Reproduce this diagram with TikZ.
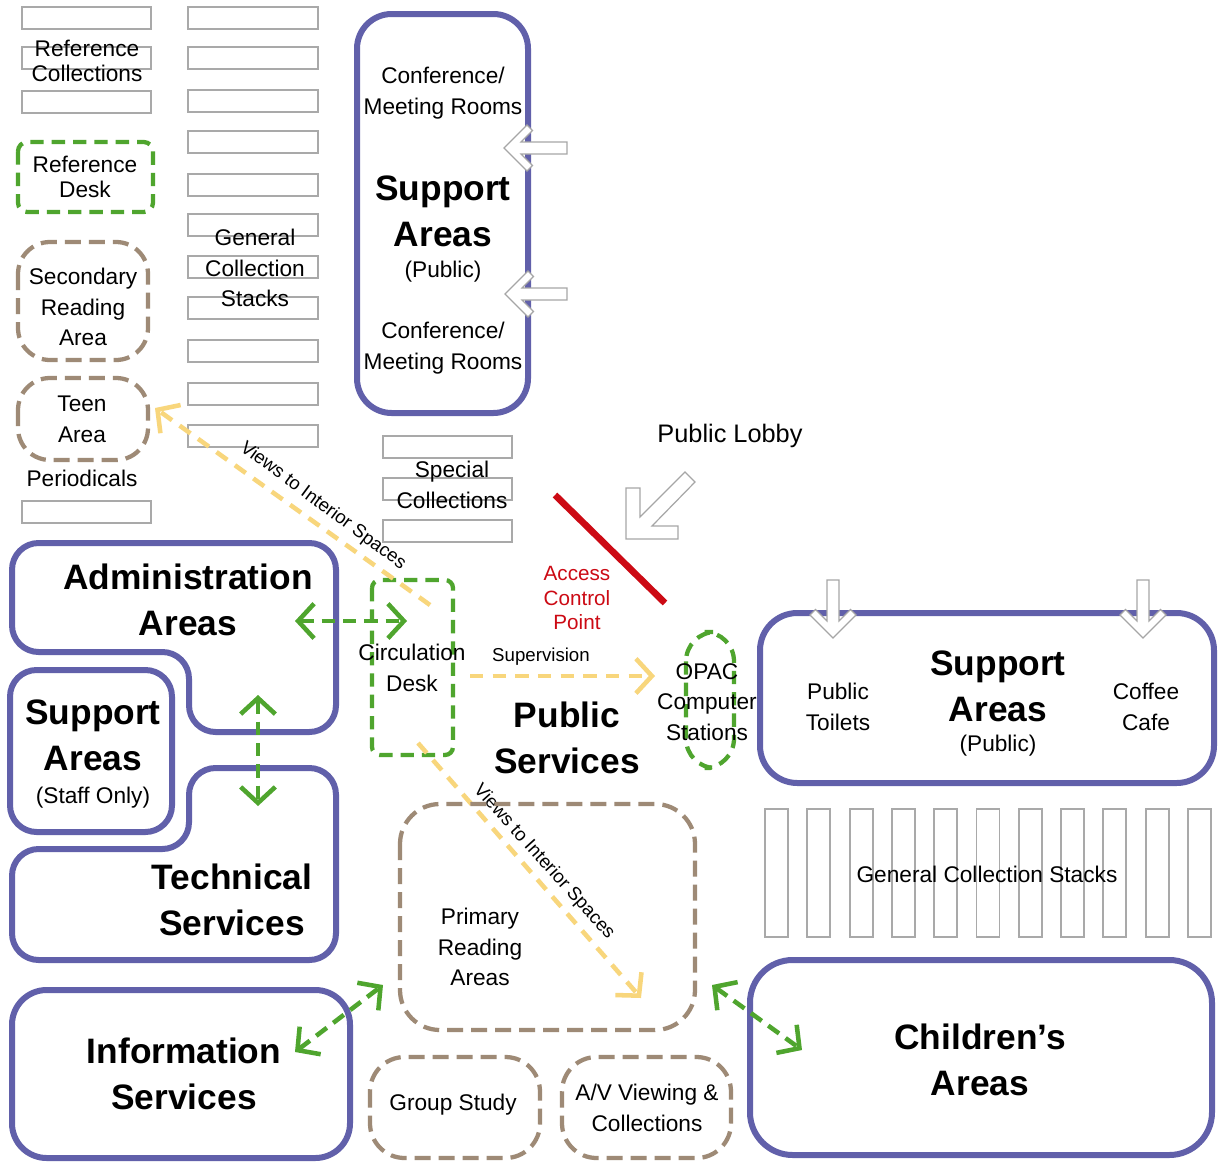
\documentclass[tikz,border=0pt]{standalone}
\usepackage{fontspec}
\setmainfont{Liberation Sans}
\usetikzlibrary{arrows.meta}
\definecolor{bord}{HTML}{6160AA}
\definecolor{grn}{HTML}{4FA52E}
\definecolor{brn}{HTML}{9E8A76}
\definecolor{ylw}{HTML}{F8D67C}
\definecolor{shelf}{HTML}{A9A9A9}
\definecolor{acred}{HTML}{CC0A14}
\tikzset{
 area/.style={draw=bord, line width=4.5pt, rounded corners=20pt},
 shelfbox/.style={draw=shelf, line width=1.4pt},
 greendash/.style={draw=grn, line width=3.2pt, dash pattern=on 10pt off 6pt},
 browndash/.style={draw=brn, line width=3.2pt, dash pattern=on 12pt off 6pt},
 garrow/.style={draw=grn, line width=3.4pt, dash pattern=on 10pt off 6pt, {Straight Barb[length=12pt,width=26pt]}-{Straight Barb[length=12pt,width=26pt]}},
 yarrow/.style={draw=ylw, line width=3.4pt, dash pattern=on 10pt off 7pt, -{Straight Barb[length=12pt,width=26pt]}},
 txt/.style={font=\fontsize{17}{23}\selectfont, align=center, inner sep=0pt},
 tighttxt/.style={font=\fontsize{17}{19}\selectfont, align=center, inner sep=0pt},
 big/.style={font=\fontsize{26.5}{34.5}\selectfont\bfseries, align=center, inner sep=0pt},
 small/.style={font=\fontsize{14}{17}\selectfont, inner sep=0pt},
 hollow/.style={draw=gray!70, fill=white, line width=0.9pt},
 pics/hollowarrow/.style={code={
   \draw[hollow] (0,0) -- (-23,-23) -- (-28.5,-17.5) -- (-17,-6) -- (-#1,-6) -- (-#1,6) -- (-17,6) -- (-28.5,17.5) -- (-23,23) -- cycle;}},
}
\begin{document}
\begin{tikzpicture}[x=0.75pt,y=-0.75pt]
\useasboundingbox (0,0) rectangle (1218,1161);
\fill[white] (0,0) rectangle (1218,1161);

% left shelves: reference collections
\foreach \y in {7,47,91} \draw[shelfbox] (22,\y) rectangle (151,\y+22);
\node[tighttxt] (refcol) at (87,61) {Reference\\Collections};
\draw[greendash, rounded corners=7pt] (18,142) rectangle (153,212);
\node[tighttxt] (refdesk) at (85,177) {Reference\\Desk};
\draw[browndash, rounded corners=24pt] (18,242) rectangle (148,360);
\node[txt] (secread) at (83,307) {Secondary\\Reading\\Area};
\draw[browndash, rounded corners=24pt] (18,378) rectangle (148,460);
\node[txt] (teen) at (82,419) {Teen\\Area};
\node[txt] (period) at (82,478) {Periodicals};
\draw[shelfbox] (22,501) rectangle (151,523);

% general collection stacks (left column)
\foreach \y in {7,47,90,131,174,214,256,297,340,383,425} \draw[shelfbox] (188,\y) rectangle (318,\y+22);
\node[txt] (genstack) at (255,268) {General\\Collection\\Stacks};

% support areas (public) top
\draw[area, rounded corners=26pt] (357,14) rectangle (528,413);
\node[txt] (conf1) at (443,93) {Conference/\\Meeting Rooms};
\node[big] (supp1) at (443,211) {Support\\Areas};
\node[txt] (pub1) at (443,272) {(Public)};
\node[txt] (conf2) at (443,348) {Conference/\\Meeting Rooms};
\pic[rotate=180] at (504,148) {hollowarrow=63};
\pic[rotate=180] at (505,294) {hollowarrow=62};

% special collections
\foreach \y in {436,478,520} \draw[shelfbox] (383,\y) rectangle (512,\y+22);
\node[txt] (special) at (452,485) {Special\\Collections};

% public lobby
\node[font=\fontsize{19}{23}\selectfont, inner sep=0pt] (lobby) at (730,436) {Public Lobby};
\draw[hollow] (626,488) -- (626,539) -- (678,539) -- (678,526) -- (652,526) -- (695,482) -- (685,472) -- (640,517) -- (640,488) -- cycle;
\coordinate (redA) at (555,495);
\coordinate (redB) at (665,603);
\draw[acred, line width=5pt] (redA) -- (redB);
\node[txt, text=acred, font=\fontsize{15.5}{18.5}\selectfont] (access) at (577,598) {Access\\Control\\Point};

% administration / staff support / technical
\draw[area] (12,543) -- (336,543) -- (336,732) -- (189,732) -- (189,652) -- (12,652) -- cycle;
\node[big] (admin) at (188,600) {Administration\\Areas};
\draw[area] (10,670) rectangle (172,832);
\node[big] (supp2) at (93,735) {Support\\Areas};
\node[txt] (staff) at (93,798) {(Staff Only)};
\draw[area] (189,768) -- (336,768) -- (336,960) -- (12,960) -- (12,849) -- (189,849) -- cycle;
\node[big] (tech) at (232,900) {Technical\\Services};

\coordinate (ac1) at (295,621);
\coordinate (ac2) at (407,621);
\draw[garrow] (ac1) -- (ac2);
\coordinate (at1) at (258,695);
\coordinate (at2) at (258,806);
\draw[garrow] (at1) -- (at2);

% circulation desk
\draw[greendash, rounded corners=6pt] (372,580) rectangle (453,755);
\node[txt] (circ) at (412,668) {Circulation\\Desk};

% views arrows
\coordinate (v1s) at (430,605);
\coordinate (v1e) at (155,408);
\draw[yarrow] (v1s) -- (v1e);
\node[small, rotate=-36.5] (views1) at (323,506) {Views to Interior Spaces};
\coordinate (v2s) at (418,743);
\coordinate (v2e) at (641,998);
\draw[yarrow] (v2s) -- (v2e);
\node[small, rotate=-48] (views2) at (544,862) {Views to Interior Spaces};
\coordinate (sp1) at (470,676);
\coordinate (sp2) at (655,676);
\draw[yarrow] (sp1) -- (sp2);
\node[small] (superv) at (541,657) {Supervision};

\node[big] (pubserv) at (567,738) {Public\\Services};

% OPAC
\draw[greendash, rounded corners=22pt] (686,632) rectangle (734,768);
\node[txt] (opac) at (707,702) {OPAC\\Computer\\Stations};

% support areas right
\draw[area, rounded corners=28pt] (760,613) rectangle (1214,783);
\pic[rotate=-90] at (833,638) {hollowarrow=58};
\pic[rotate=-90] at (1143,638) {hollowarrow=58};
\node[txt] (toilets) at (838,707) {Public\\Toilets};
\node[big] (supp3) at (998,686) {Support\\Areas};
\node[txt] (pub3) at (998,746) {(Public)};
\node[txt] (cafe) at (1146,707) {Coffee\\Cafe};

% general collection stacks (right)
\foreach \i in {0,...,10} \draw[shelfbox] (765+42.3*\i,809) rectangle (788+42.3*\i,937);
\node[txt] (genstack2) at (987,874) {General Collection Stacks};

% reading areas
\draw[browndash, rounded corners=30pt] (400,804) rectangle (695,1030);
\node[txt] (primary) at (480,947) {Primary\\Reading\\Areas};
\draw[browndash, rounded corners=26pt] (370,1057) rectangle (540,1158);
\node[txt] (group) at (453,1105) {Group Study};
\draw[browndash, rounded corners=26pt] (562,1057) rectangle (731,1158);
\node[txt] (av) at (647,1108) {A/V Viewing \&\\Collections};

% information services / children's
\draw[area, rounded corners=26pt] (12,990) rectangle (350,1158);
\node[big] (info) at (184,1074) {Information\\Services};
\draw[area, rounded corners=32pt] (750,960) rectangle (1212,1155);
\node[big] (child) at (980,1060) {Children’s\\Areas};

\coordinate (ip1) at (295,1052);
\coordinate (ip2) at (383,985);
\draw[garrow] (ip1) -- (ip2);
\coordinate (pc1) at (712,985);
\coordinate (pc2) at (802,1050);
\draw[garrow] (pc1) -- (pc2);
\end{tikzpicture}
\end{document}
